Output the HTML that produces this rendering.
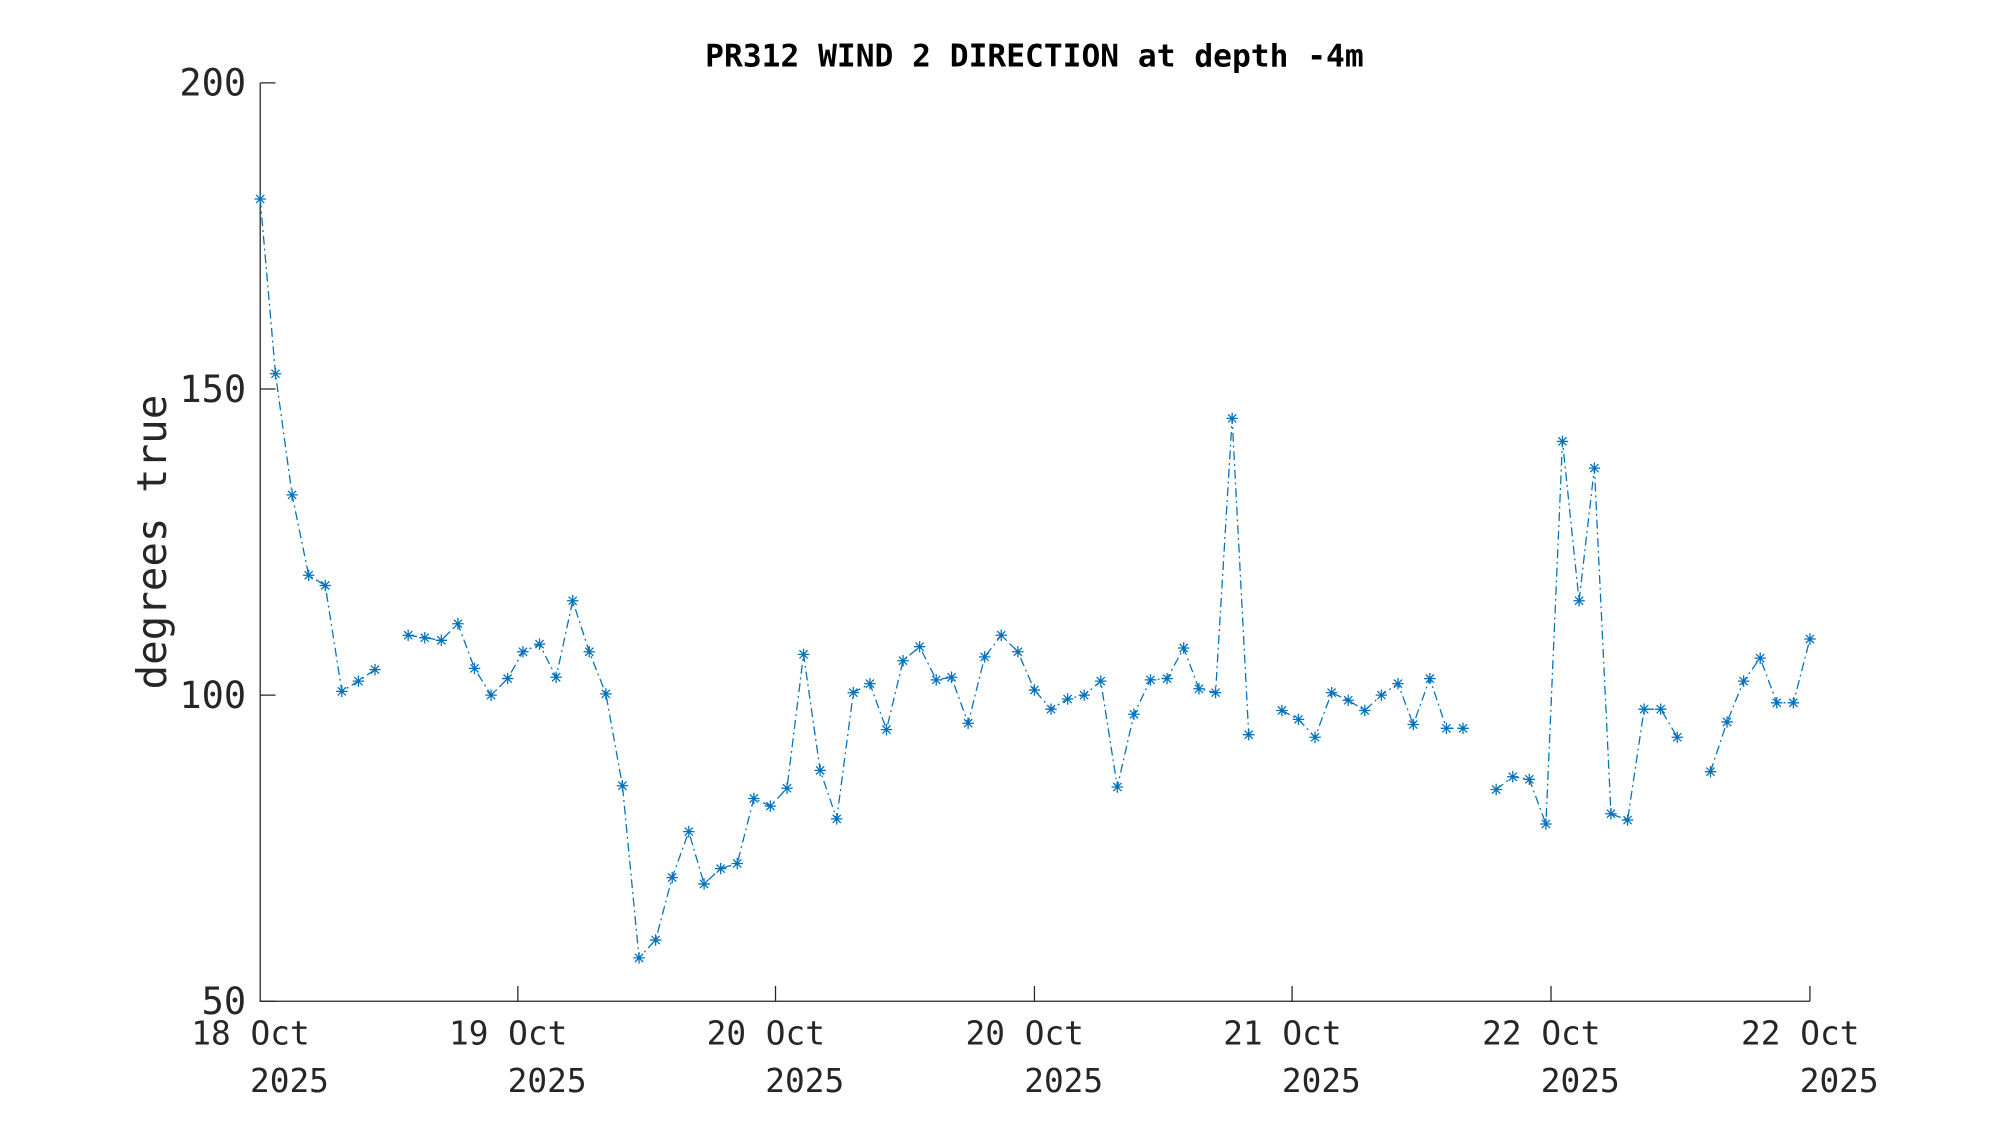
<!DOCTYPE html>
<html><head><meta charset="utf-8"><style>html,body{margin:0;padding:0;background:#fff}svg{display:block}</style></head><body>
<svg width="2000" height="1125" viewBox="0 0 1568 882" xmlns="http://www.w3.org/2000/svg" xmlns:xlink="http://www.w3.org/1999/xlink" font-family="'DejaVu Sans Mono','Liberation Mono',monospace">
<defs><path id="m" d="M-4.5,0h9M0,-4.5v9M-3.2,-3.2l6.4,6.4M-3.2,3.2l6.4,-6.4" stroke="#0072BD" stroke-width="1" fill="none"/></defs>
<rect width="1568" height="882" fill="#fff"/>
<text x="811" y="52" text-anchor="middle" font-size="24.5" font-weight="bold" fill="#000">PR312 WIND 2 DIRECTION at depth -4m</text>
<g stroke="#262626" stroke-width="1" fill="none">
<path d="M204,65 V785 H1419"/>
<path d="M204,65 h12 M204,305 h12 M204,545 h12 M204,785 h12"/>
<path d="M406,785 v-12 M608,785 v-12 M811,785 v-12 M1013,785 v-12 M1216,785 v-12 M1419,785 v-12"/>
</g>
<g font-size="29" fill="#262626" text-anchor="end">
<text x="193" y="75">200</text><text x="193" y="315">150</text><text x="193" y="555">100</text><text x="193" y="795">50</text>
</g>
<g font-size="25.7" fill="#262626">
<text x="150" y="819">18 Oct</text><text x="196" y="856">2025</text>
<text x="352" y="819">19 Oct</text><text x="398" y="856">2025</text>
<text x="554" y="819">20 Oct</text><text x="600" y="856">2025</text>
<text x="757" y="819">20 Oct</text><text x="803" y="856">2025</text>
<text x="959" y="819">21 Oct</text><text x="1005" y="856">2025</text>
<text x="1162" y="819">22 Oct</text><text x="1208" y="856">2025</text>
<text x="1365" y="819">22 Oct</text><text x="1411" y="856">2025</text>
</g>
<text transform="translate(130,425) rotate(-90)" text-anchor="middle" font-size="32" fill="#262626">degrees true</text>
<path fill="none" stroke="#0072BD" stroke-width="1" stroke-dasharray="7,3,1.5,3" d="M204,156 L216,293 L229,388 L242,451 L255,459 L268,542 L281,534 L294,525 M320,498 L333,500 L346,502 L359,489 L372,524 L385,545 L398,532 L410,511 L423,505 L436,531 L449,471 L462,511 L475,544 L488,616 L501,751 L514,737 L527,688 L540,652 L552,693 L565,681 L578,677 L591,626 L604,632 L617,618 L630,513 L643,604 L656,642 L669,543 L682,536 L695,572 L708,518 L721,507 L734,533 L746,531 L759,567 L772,515 L785,498 L798,511 L811,541 L824,556 L837,548 L850,545 L863,534 L876,617 L889,560 L902,533 L915,532 L928,508 L940,540 L953,543 L966,328 L979,576 M1005,557 L1018,564 L1031,578 L1044,543 L1057,549 L1070,557 L1083,545 L1096,536 L1108,568 L1121,532 L1134,571 L1147,571 M1173,619 L1186,609 L1199,611 L1212,646 L1225,346 L1238,471 L1250,367 L1263,638 L1276,643 L1289,556 L1302,556 L1315,578 M1341,605 L1354,566 L1367,534 L1380,516 L1393,551 L1406,551 L1419,501"/>
<g>
<use xlink:href="#m" x="204" y="156"/><use xlink:href="#m" x="216" y="293"/><use xlink:href="#m" x="229" y="388"/><use xlink:href="#m" x="242" y="451"/><use xlink:href="#m" x="255" y="459"/><use xlink:href="#m" x="268" y="542"/><use xlink:href="#m" x="281" y="534"/><use xlink:href="#m" x="294" y="525"/>
<use xlink:href="#m" x="320" y="498"/><use xlink:href="#m" x="333" y="500"/><use xlink:href="#m" x="346" y="502"/><use xlink:href="#m" x="359" y="489"/><use xlink:href="#m" x="372" y="524"/><use xlink:href="#m" x="385" y="545"/><use xlink:href="#m" x="398" y="532"/><use xlink:href="#m" x="410" y="511"/><use xlink:href="#m" x="423" y="505"/><use xlink:href="#m" x="436" y="531"/><use xlink:href="#m" x="449" y="471"/><use xlink:href="#m" x="462" y="511"/><use xlink:href="#m" x="475" y="544"/><use xlink:href="#m" x="488" y="616"/><use xlink:href="#m" x="501" y="751"/><use xlink:href="#m" x="514" y="737"/><use xlink:href="#m" x="527" y="688"/><use xlink:href="#m" x="540" y="652"/><use xlink:href="#m" x="552" y="693"/><use xlink:href="#m" x="565" y="681"/><use xlink:href="#m" x="578" y="677"/><use xlink:href="#m" x="591" y="626"/><use xlink:href="#m" x="604" y="632"/><use xlink:href="#m" x="617" y="618"/><use xlink:href="#m" x="630" y="513"/><use xlink:href="#m" x="643" y="604"/><use xlink:href="#m" x="656" y="642"/><use xlink:href="#m" x="669" y="543"/><use xlink:href="#m" x="682" y="536"/><use xlink:href="#m" x="695" y="572"/><use xlink:href="#m" x="708" y="518"/><use xlink:href="#m" x="721" y="507"/><use xlink:href="#m" x="734" y="533"/><use xlink:href="#m" x="746" y="531"/><use xlink:href="#m" x="759" y="567"/><use xlink:href="#m" x="772" y="515"/><use xlink:href="#m" x="785" y="498"/><use xlink:href="#m" x="798" y="511"/><use xlink:href="#m" x="811" y="541"/><use xlink:href="#m" x="824" y="556"/><use xlink:href="#m" x="837" y="548"/><use xlink:href="#m" x="850" y="545"/><use xlink:href="#m" x="863" y="534"/><use xlink:href="#m" x="876" y="617"/><use xlink:href="#m" x="889" y="560"/><use xlink:href="#m" x="902" y="533"/><use xlink:href="#m" x="915" y="532"/><use xlink:href="#m" x="928" y="508"/><use xlink:href="#m" x="940" y="540"/><use xlink:href="#m" x="953" y="543"/><use xlink:href="#m" x="966" y="328"/><use xlink:href="#m" x="979" y="576"/>
<use xlink:href="#m" x="1005" y="557"/><use xlink:href="#m" x="1018" y="564"/><use xlink:href="#m" x="1031" y="578"/><use xlink:href="#m" x="1044" y="543"/><use xlink:href="#m" x="1057" y="549"/><use xlink:href="#m" x="1070" y="557"/><use xlink:href="#m" x="1083" y="545"/><use xlink:href="#m" x="1096" y="536"/><use xlink:href="#m" x="1108" y="568"/><use xlink:href="#m" x="1121" y="532"/><use xlink:href="#m" x="1134" y="571"/><use xlink:href="#m" x="1147" y="571"/>
<use xlink:href="#m" x="1173" y="619"/><use xlink:href="#m" x="1186" y="609"/><use xlink:href="#m" x="1199" y="611"/><use xlink:href="#m" x="1212" y="646"/><use xlink:href="#m" x="1225" y="346"/><use xlink:href="#m" x="1238" y="471"/><use xlink:href="#m" x="1250" y="367"/><use xlink:href="#m" x="1263" y="638"/><use xlink:href="#m" x="1276" y="643"/><use xlink:href="#m" x="1289" y="556"/><use xlink:href="#m" x="1302" y="556"/><use xlink:href="#m" x="1315" y="578"/>
<use xlink:href="#m" x="1341" y="605"/><use xlink:href="#m" x="1354" y="566"/><use xlink:href="#m" x="1367" y="534"/><use xlink:href="#m" x="1380" y="516"/><use xlink:href="#m" x="1393" y="551"/><use xlink:href="#m" x="1406" y="551"/><use xlink:href="#m" x="1419" y="501"/>
</g>
</svg>
</body></html>
